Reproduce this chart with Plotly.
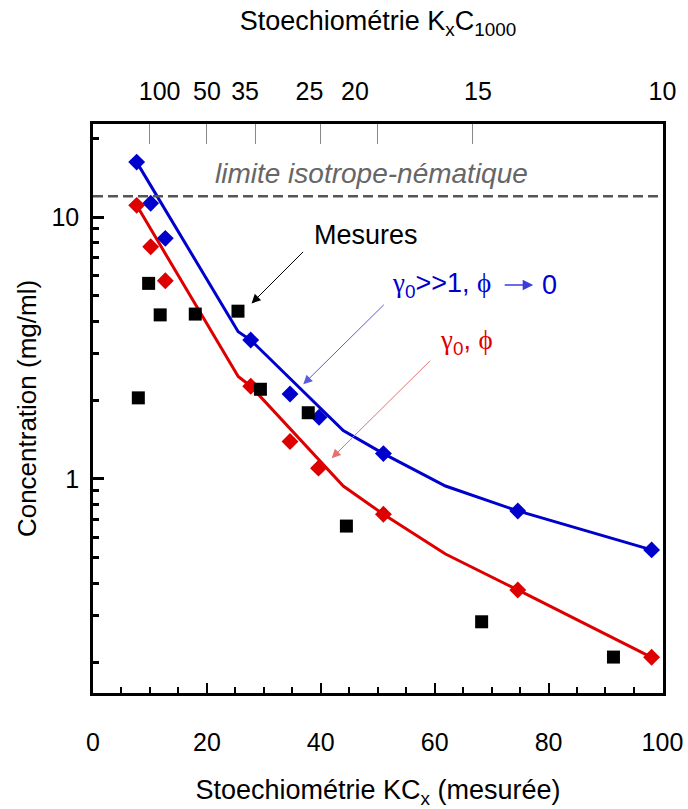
import numpy as np
import plotly.graph_objects as go

# ---------------- data ----------------
# Measured points (black squares)
mes_x = [7.96, 9.77, 11.8, 17.96, 25.46, 29.4, 37.8, 44.5, 68.25, 91.4]
mes_y = [2.04, 5.58, 4.23, 4.26, 4.37, 2.20, 1.79, 0.661, 0.285, 0.209]

# Model points gamma0>>1, phi->0 (blue diamonds)
blue_x = [7.67, 10.13, 12.7, 27.7, 34.6, 39.7, 51.0, 74.6, 98.1]
blue_y = [16.2, 11.28, 8.29, 3.39, 2.11, 1.72, 1.25, 0.755, 0.536]

# Model points gamma0, phi (red diamonds)
red_x = [7.67, 10.13, 12.7, 27.7, 34.6, 39.6, 51.0, 74.6, 98.1]
red_y = [11.08, 7.70, 5.71, 2.26, 1.39, 1.10, 0.733, 0.377, 0.2086]

# Model curves
blue_line_x = [7.67, 25.5, 27.7, 43.95, 51.0, 61.9, 74.6, 98.1]
blue_line_y = [16.2, 3.65, 3.39, 1.53, 1.25, 0.94, 0.755, 0.536]
red_line_x = [7.67, 25.5, 27.7, 43.95, 51.0, 61.9, 74.6, 98.1]
red_line_y = [11.08, 2.46, 2.26, 0.94, 0.733, 0.517, 0.377, 0.2086]

# isotropic-nematic limit
nematic_limit = 12.0

# top axis: stoichiometry K_x C_1000
top_n = [100, 50, 35, 25, 20, 15, 10]
top_tick_pos = [1000.0 / n for n in top_n]
top_label_text = [str(n) for n in top_n]
top_label_pos = [11.7, 20.0, 26.7, 38.0, 46.0, 67.6, 100.0]

y_major = [1, 10]
y_minor = [0.2, 0.3, 0.4, 0.5, 0.6, 0.7, 0.8, 0.9, 2, 3, 4, 5, 6, 7, 8, 9, 20]

BLUE = "rgb(0,0,205)"
RED = "rgb(222,0,0)"
FONT = "Liberation Sans, Arial, sans-serif"
GAMMA = '<span style="font-family:Liberation Serif">γ</span>'
PHI = '<span style="font-family:Liberation Serif">ϕ</span>'

fig = go.Figure()
fig.add_trace(go.Scatter(x=blue_line_x, y=blue_line_y, mode="lines",
                         line=dict(color=BLUE, width=3), showlegend=False))
fig.add_trace(go.Scatter(x=red_line_x, y=red_line_y, mode="lines",
                         line=dict(color=RED, width=3), showlegend=False))
fig.add_trace(go.Scatter(x=blue_x, y=blue_y, mode="markers",
                         marker=dict(symbol="diamond", size=13, color=BLUE), showlegend=False))
fig.add_trace(go.Scatter(x=red_x, y=red_y, mode="markers",
                         marker=dict(symbol="diamond", size=13, color=RED), showlegend=False))
fig.add_trace(go.Scatter(x=mes_x, y=mes_y, mode="markers",
                         marker=dict(symbol="square", size=13, color="black"), showlegend=False))
# dummy traces to activate top axes
fig.add_trace(go.Scatter(x=[None], y=[None], xaxis="x2", showlegend=False, hoverinfo="skip"))
fig.add_trace(go.Scatter(x=[None], y=[None], xaxis="x3", showlegend=False, hoverinfo="skip"))

fig.add_shape(type="line", xref="paper", x0=0, x1=1, yref="y", y0=nematic_limit, y1=nematic_limit,
              line=dict(color="#555555", width=2.5, dash="10px,5px"))

xr = [0, 100.1]
fig.update_layout(
    width=688, height=809,
    margin=dict(l=93, r=25, t=124, b=116),
    plot_bgcolor="white", paper_bgcolor="white",
    font=dict(family=FONT, color="black", size=25),
    xaxis=dict(range=xr, automargin=False, showgrid=False, zeroline=False, showline=True, linecolor="black", linewidth=2.5,
               ticks="inside", ticklen=10, tickwidth=2, tickcolor="black", tick0=0, dtick=20,
               minor=dict(ticks="inside", ticklen=6, tickwidth=2, tickcolor="black", dtick=5),
               tickfont=dict(size=25), ticklabelstandoff=25,
               title=dict(text="Stoechiométrie KC<sub>x</sub> (mesurée)", font=dict(size=27), standoff=27)),
    xaxis2=dict(range=xr, automargin=False, overlaying="x", side="top", showgrid=False, zeroline=False,
                showline=True, linecolor="black", linewidth=2.5,
                tickvals=top_tick_pos, ticks="inside", ticklen=20, tickwidth=1.2, tickcolor="#888888",
                showticklabels=False),
    xaxis3=dict(range=xr, automargin=False, overlaying="x", side="top", showgrid=False, zeroline=False, showline=False,
                tickvals=top_label_pos, ticktext=top_label_text, ticks="",
                tickfont=dict(size=25), ticklabelstandoff=18,
                title=dict(text="Stoechiométrie K<sub>x</sub>C<sub>1000</sub>", font=dict(size=27), standoff=38)),
    yaxis=dict(type="log", range=[-0.817, 1.355], automargin=False, showgrid=False, zeroline=False,
               showline=True, linecolor="black", linewidth=2.5, mirror=True,
               tickvals=y_major, ticktext=["1", "10"], ticks="inside", ticklen=11, tickwidth=2.5, tickcolor="black",
               minor=dict(ticks="inside", ticklen=6, tickwidth=2.5, tickcolor="black", tickvals=y_minor),
               tickfont=dict(size=25), ticklabelstandoff=6,
               title=dict(text="Concentration (mg/ml)", font=dict(size=26), standoff=8)),
)

ann = []
ann.append(dict(x=21.07, y=np.log10(14.72), xref="x", yref="y", xanchor="left", yanchor="middle",
                text="<i>limite isotrope-nématique</i>", showarrow=False,
                font=dict(size=28, color="#666666")))
ann.append(dict(x=38.4, y=np.log10(8.54), xref="x", yref="y", xanchor="left", yanchor="middle",
                text="Mesures", showarrow=False, font=dict(size=27, color="black")))
ann.append(dict(x=52.15, y=np.log10(5.5), xref="x", yref="y", xanchor="left", yanchor="middle",
                text=GAMMA + "<sub>0</sub>>>1, " + PHI, showarrow=False, font=dict(size=27, color=BLUE)))
ann.append(dict(x=78.5, y=np.log10(5.5), xref="x", yref="y", xanchor="left", yanchor="middle",
                text="0", showarrow=False, font=dict(size=27, color=BLUE)))
ann.append(dict(x=60.6, y=np.log10(3.33), xref="x", yref="y", xanchor="left", yanchor="middle",
                text=GAMMA + "<sub>0</sub>, " + PHI, showarrow=False, font=dict(size=27, color=RED)))
# arrows
ann.append(dict(x=27.85, y=np.log10(4.68), xref="x", yref="y", ax=53, ay=-53, text="",
                showarrow=True, arrowhead=2, arrowsize=1.8, arrowwidth=1, arrowcolor="black"))
ann.append(dict(x=36.93, y=np.log10(2.298), xref="x", yref="y", ax=82, ay=-81, text="",
                showarrow=True, arrowhead=2, arrowsize=1.8, arrowwidth=1, arrowcolor="rgb(90,90,225)"))
ann.append(dict(x=41.91, y=np.log10(1.20), xref="x", yref="y", ax=100, ay=-99, text="",
                showarrow=True, arrowhead=2, arrowsize=1.8, arrowwidth=1, arrowcolor="rgb(235,110,110)"))
ann.append(dict(x=77.3, y=np.log10(5.5), xref="x", yref="y", ax=-30, ay=0, text="",
                showarrow=True, arrowhead=2, arrowsize=1.4, arrowwidth=1.5, arrowcolor="rgb(60,60,220)"))
fig.update_layout(annotations=ann)

fig.write_html("out.html", config={"displayModeBar": False},
               post_script="document.body.style.margin='0';")
